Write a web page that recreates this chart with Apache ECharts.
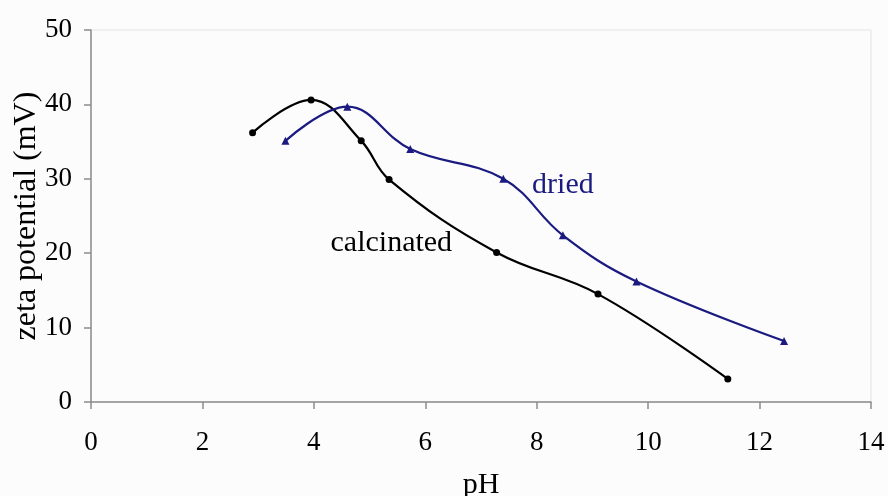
<!DOCTYPE html>
<html>
<head>
<meta charset="utf-8">
<script src="https://cdn.jsdelivr.net/npm/echarts@6/dist/echarts.min.js"></script>
<style>
  html, body { margin: 0; padding: 0; background: #fcfcfc; }
  #chart { width: 888px; height: 496px; }
</style>
</head>
<body>
<div id="chart"></div>
<script>
// Zeta potential vs pH for the calcinated and dried samples
const calcinatedPH   = [2.90, 3.95, 4.85, 5.35, 7.28, 9.10, 11.43];
const calcinatedZeta = [36.2, 40.6, 35.1, 29.9, 20.1, 14.5, 3.1];

const driedPH   = [3.49, 4.60, 5.73, 7.40, 8.47, 9.79, 12.44];
const driedZeta = [35.1, 39.7, 34.0, 30.0, 22.4, 16.2, 8.2];

// Curve captions, placed in data coordinates
const captionText = ['calcinated', 'dried'];
const captionPH   = [5.39, 8.47];
const captionZeta = [21.3, 29.2];

const xTicks = { min: 0, max: 14, interval: 2 };
const yTicks = { min: 0, max: 50, interval: 10 };

const BLACK = '#000000';
const NAVY = '#1a1a80';
const SERIF = '"Liberation Serif", "Times New Roman", serif';

const zip = (xs, ys) => xs.map((x, i) => [x, ys[i]]);

const chart = echarts.init(document.getElementById('chart'), null, { renderer: 'canvas' });

chart.setOption({
  animation: false,
  backgroundColor: '#fcfcfc',
  grid: {
    left: 91, right: 17, top: 30, bottom: 94,
    outerBoundsMode: 'none',
    containLabel: false,
    show: true, borderColor: '#e4e4e4', borderWidth: 1, backgroundColor: 'transparent'
  },
  xAxis: {
    type: 'value',
    min: xTicks.min, max: xTicks.max, interval: xTicks.interval,
    name: 'pH',
    nameLocation: 'middle',
    nameGap: 68,
    nameMoveOverlap: false,
    nameTextStyle: { fontFamily: SERIF, fontSize: 30, color: BLACK },
    axisLine: { show: true, lineStyle: { color: '#8c8c8c', width: 1.5 } },
    axisTick: { show: true, length: 7, lineStyle: { color: '#8c8c8c', width: 1.5 } },
    axisLabel: { fontFamily: SERIF, fontSize: 27, color: BLACK, margin: 27 },
    splitLine: { show: false }
  },
  yAxis: {
    type: 'value',
    min: yTicks.min, max: yTicks.max, interval: yTicks.interval,
    name: 'zeta potential (mV)',
    nameLocation: 'middle',
    nameGap: 48,
    nameMoveOverlap: false,
    nameTextStyle: { fontFamily: SERIF, fontSize: 32, color: BLACK },
    axisLine: { show: true, lineStyle: { color: '#8c8c8c', width: 1.5 } },
    axisTick: { show: true, length: 7, lineStyle: { color: '#8c8c8c', width: 1.5 } },
    axisLabel: { fontFamily: SERIF, fontSize: 27, color: BLACK, margin: 19 },
    splitLine: { show: false }
  },
  series: [
    {
      name: 'calcinated',
      type: 'line',
      data: zip(calcinatedPH, calcinatedZeta),
      smooth: 0.4,
      symbol: 'circle',
      symbolSize: 7,
      lineStyle: { color: BLACK, width: 2.2 },
      itemStyle: { color: BLACK }
    },
    {
      name: 'dried',
      type: 'line',
      data: zip(driedPH, driedZeta),
      smooth: 0.4,
      symbol: 'triangle',
      symbolSize: 8,
      lineStyle: { color: NAVY, width: 2.2 },
      itemStyle: { color: NAVY }
    },
    {
      name: 'captions',
      type: 'scatter',
      symbolSize: 0,
      silent: true,
      itemStyle: { opacity: 1 },
      data: captionText.map((t, i) => ({
        value: [captionPH[i], captionZeta[i]],
        name: t,
        label: { color: i === 0 ? BLACK : NAVY }
      })),
      label: {
        show: true,
        position: 'inside',
        formatter: p => p.name,
        fontFamily: SERIF,
        fontSize: 30
      }
    }
  ]
});
</script>
</body>
</html>
